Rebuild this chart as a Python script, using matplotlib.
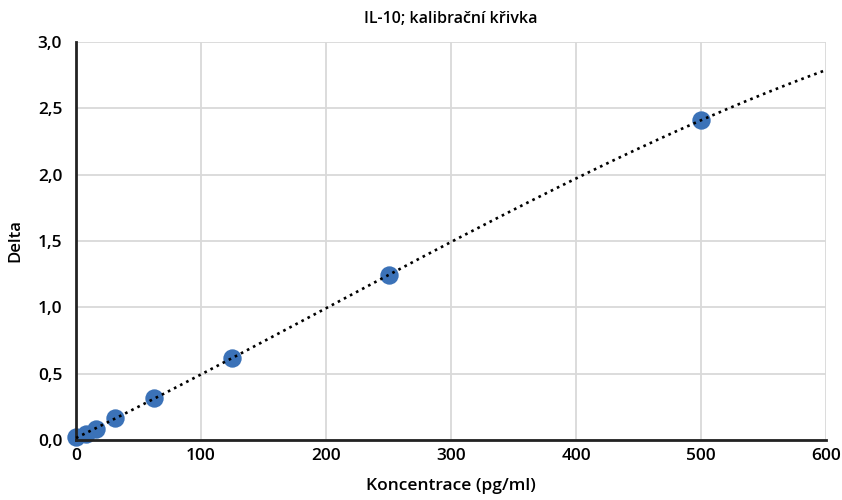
import numpy as np
import matplotlib
matplotlib.use("Agg")
import matplotlib.pyplot as plt
from matplotlib.ticker import FuncFormatter, MultipleLocator

# IL-10 calibration standards
konc = [0, 7.8, 15.6, 31.25, 62.5, 125, 250, 500]
delta = [0.02, 0.045, 0.085, 0.165, 0.315, 0.615, 1.245, 2.41]

plt.rcParams['font.family'] = ['Open Sans', 'DejaVu Sans']

fig = plt.figure(figsize=(8.42, 5.0), dpi=100)
ax = fig.add_axes([0.0903, 0.12, 0.8907, 0.796])

# polynomial trend line over the full x range
coef = np.polyfit(konc, delta, 3)
xs = np.linspace(0, 600, 300)
ax.plot(xs, np.polyval(coef, xs), color='black', lw=1.9,
        linestyle=(0, (1, 1.6)), zorder=3, clip_on=False)
ax.scatter(konc, delta, s=175, color='#3b72b8', zorder=2, linewidths=0,
           clip_on=False)

ax.set_xlim(0, 600)
ax.set_ylim(0, 3.0)
ax.xaxis.set_major_locator(MultipleLocator(100))
ax.yaxis.set_major_locator(MultipleLocator(0.5))
ax.yaxis.set_major_formatter(FuncFormatter(lambda v, p: f"{v:.1f}".replace('.', ',')))
ax.grid(True, color='#d9d9d9', lw=1.3)
ax.set_axisbelow(True)
for s in ['top', 'right']:
    ax.spines[s].set_visible(False)
for s in ['left', 'bottom']:
    ax.spines[s].set_linewidth(2)
    ax.spines[s].set_color('#222222')
ax.tick_params(length=0, labelsize=12.5)
ax.tick_params(axis='x', pad=6)
ax.tick_params(axis='y', pad=10)
for lab in ax.get_xticklabels() + ax.get_yticklabels():
    lab.set_fontweight('semibold')

ax.set_title("IL-10; kalibrační křivka", fontsize=11.5, fontweight='semibold', pad=14)
ax.set_xlabel("Koncentrace (pg/ml)", fontsize=12.5, fontweight='semibold', labelpad=10)
ax.set_ylabel("Delta", fontsize=12, fontweight='semibold', labelpad=10)

fig.savefig("out.png", dpi=100)
